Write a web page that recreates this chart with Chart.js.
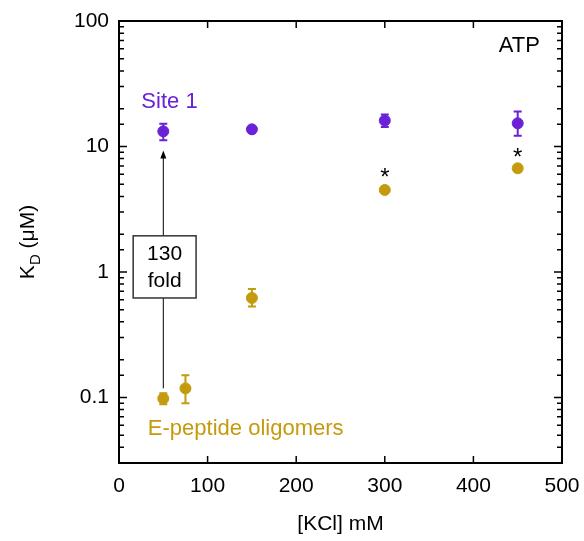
<!DOCTYPE html>
<html>
<head>
<meta charset="utf-8">
<script src="https://cdn.jsdelivr.net/npm/chart.js@4.4.0/dist/chart.umd.min.js"></script>
<style>
  html, body { margin: 0; padding: 0; background: #fff; }
  #wrap { width: 584px; height: 541px; }
</style>
</head>
<body>
<div id="wrap"><canvas id="kd"></canvas></div>
<script>
// KCl concentrations (mM)
const site1Kcl = [50, 150, 300, 450];
const site1Kd = [13.2, 13.7, 16.1, 15.3];
const site1Low = [11.2, 13.7, 14.3, 12.2];
const site1High = [15.2, 13.7, 18.0, 19.0];

const oligoKcl = [50, 75, 150, 300, 450];
const oligoKd = [0.098, 0.118, 0.62, 4.5, 6.7];
const oligoLow = [0.088, 0.09, 0.53, 4.5, 6.7];
const oligoHigh = [0.108, 0.15, 0.73, 4.5, 6.7];

const xTicks = [0, 100, 200, 300, 400, 500];
const yMajor = [0.1, 1, 10, 100];

const purple = '#6b21d8';
const gold = '#c49b0e';
const font = '"Liberation Sans", Arial, sans-serif';

function pts(xs, ys) {
  return xs.map((x, i) => ({ x: x, y: ys[i] }));
}

// error bars + inward ticks + frame + y title + annotations
var extras = {
  id: 'extras',
  afterDatasetsDraw(chart) {
    const { ctx, chartArea: { top, bottom, left, right }, scales: { x, y } } = chart;
    ctx.save();
    // frame
    ctx.strokeStyle = '#000';
    ctx.lineWidth = 2;
    ctx.strokeRect(left, top, right - left, bottom - top);
    // x ticks, top and bottom
    ctx.lineWidth = 1.5;
    ctx.beginPath();
    xTicks.slice(1, -1).forEach(v => {
      const px = x.getPixelForValue(v);
      ctx.moveTo(px, bottom); ctx.lineTo(px, bottom - 7);
      ctx.moveTo(px, top); ctx.lineTo(px, top + 7);
    });
    // y ticks, left and right
    y.ticks.forEach(t => {
      const py = y.getPixelForValue(t.value);
      if (py < top + 1 || py > bottom - 1) return;
      const len = yMajor.includes(t.value) ? 8 : 5;
      ctx.moveTo(left, py); ctx.lineTo(left + len, py);
      ctx.moveTo(right, py); ctx.lineTo(right - len, py);
    });
    ctx.stroke();

    // error bars
    function bars(xs, lo, hi, color) {
      ctx.strokeStyle = color;
      ctx.lineWidth = 2;
      ctx.beginPath();
      xs.forEach((v, i) => {
        if (lo[i] === hi[i]) return;
        const px = x.getPixelForValue(v);
        const p1 = y.getPixelForValue(lo[i]);
        const p2 = y.getPixelForValue(hi[i]);
        ctx.moveTo(px, p1); ctx.lineTo(px, p2);
        ctx.moveTo(px - 4, p1); ctx.lineTo(px + 4, p1);
        ctx.moveTo(px - 4, p2); ctx.lineTo(px + 4, p2);
      });
      ctx.stroke();
    }
    bars(site1Kcl, site1Low, site1High, purple);
    bars(oligoKcl, oligoLow, oligoHigh, gold);

    // arrow 50 mM
    const ax = x.getPixelForValue(50);
    const ay1 = y.getPixelForValue(0.118);
    const ay2 = y.getPixelForValue(9.3);
    ctx.strokeStyle = '#000';
    ctx.fillStyle = '#000';
    ctx.lineWidth = 1;
    ctx.beginPath();
    ctx.moveTo(ax, ay1); ctx.lineTo(ax, ay2 + 6);
    ctx.stroke();
    ctx.beginPath();
    ctx.moveTo(ax, ay2); ctx.lineTo(ax - 3, ay2 + 8); ctx.lineTo(ax + 3, ay2 + 8);
    ctx.closePath(); ctx.fill();

    // 130 fold box
    const bx1 = x.getPixelForValue(16), bx2 = x.getPixelForValue(87);
    const by1 = y.getPixelForValue(1.94), by2 = y.getPixelForValue(0.62);
    ctx.fillStyle = '#fff';
    ctx.fillRect(bx1, by1, bx2 - bx1, by2 - by1);
    ctx.lineWidth = 1.5;
    ctx.strokeStyle = '#333';
    ctx.strokeRect(bx1, by1, bx2 - bx1, by2 - by1);
    ctx.fillStyle = '#000';
    ctx.font = '21px ' + font;
    ctx.textAlign = 'center';
    ctx.textBaseline = 'middle';
    const bcx = (bx1 + bx2) / 2;
    ctx.fillText('130', bcx, by1 + 18);
    ctx.fillText('fold', bcx, by1 + 45);

    // labels
    ctx.font = '22px ' + font;
    ctx.textAlign = 'right';
    ctx.fillText('ATP', x.getPixelForValue(475), y.getPixelForValue(63));
    ctx.textAlign = 'center';
    ctx.fillStyle = purple;
    ctx.fillText('Site 1', x.getPixelForValue(57), y.getPixelForValue(22.5));
    ctx.fillStyle = gold;
    ctx.fillText('E-peptide oligomers', x.getPixelForValue(143), y.getPixelForValue(0.0565));
    ctx.fillStyle = '#000';
    ctx.font = '24px ' + font;
    ctx.fillText('*', x.getPixelForValue(300), y.getPixelForValue(5.6));
    ctx.fillText('*', x.getPixelForValue(450), y.getPixelForValue(8.1));

    // y title with subscript
    ctx.translate(28, (top + bottom) / 2);
    ctx.rotate(-Math.PI / 2);
    ctx.textAlign = 'left';
    ctx.textBaseline = 'middle';
    ctx.font = '21px ' + font;
    const w1 = ctx.measureText('K').width;
    ctx.font = '15px ' + font;
    const w2 = ctx.measureText('D').width;
    ctx.font = '21px ' + font;
    const w3 = ctx.measureText(' (\u03bcM)').width;
    let sx = -(w1 + w2 + w3) / 2;
    ctx.fillText('K', sx, 0);
    ctx.font = '15px ' + font;
    ctx.fillText('D', sx + w1, 8);
    ctx.font = '21px ' + font;
    ctx.fillText(' (\u03bcM)', sx + w1 + w2, 0);
    ctx.restore();
  }
};

new Chart(document.getElementById('kd'), {
  type: 'scatter',
  data: {
    datasets: [
      {
        label: 'Site 1',
        data: pts(site1Kcl, site1Kd),
        backgroundColor: purple,
        borderColor: purple,
        pointRadius: 5.5,
        pointHoverRadius: 5.5
      },
      {
        label: 'E-peptide oligomers',
        data: pts(oligoKcl, oligoKd),
        backgroundColor: gold,
        borderColor: gold,
        pointRadius: 5.5,
        pointHoverRadius: 5.5
      }
    ]
  },
  options: {
    responsive: true,
    maintainAspectRatio: false,
    animation: false,
    layout: { padding: { top: 21, right: 22, left: 0, bottom: 0 } },
    plugins: {
      legend: { display: false },
      tooltip: { enabled: false }
    },
    scales: {
      x: {
        type: 'linear',
        min: 0,
        max: 500,
        afterBuildTicks: (s) => { s.ticks = xTicks.map(v => ({ value: v })); },
        grid: { display: false, drawTicks: false },
        border: { display: false },
        ticks: { color: '#000', padding: 11, font: { family: font, size: 21 } },
        title: { display: true, text: '[KCl] mM', color: '#000', padding: { top: 8 }, font: { family: font, size: 21 } },
        afterFit: (s) => { s.height = 78; s.paddingRight = 0; s.paddingLeft = 0; }
      },
      y: {
        type: 'logarithmic',
        min: 0.03,
        max: 100,
        grid: { display: false, drawTicks: false },
        border: { display: false },
        ticks: {
          color: '#000',
          padding: 10,
          autoSkip: false,
          font: { family: font, size: 21 },
          callback: (v) => yMajor.includes(v) ? String(v) : ''
        },
        afterFit: (s) => { s.width = 119; s.paddingTop = 0; s.paddingBottom = 0; }
      }
    }
  },
  plugins: [extras]
});
</script>
</body>
</html>
